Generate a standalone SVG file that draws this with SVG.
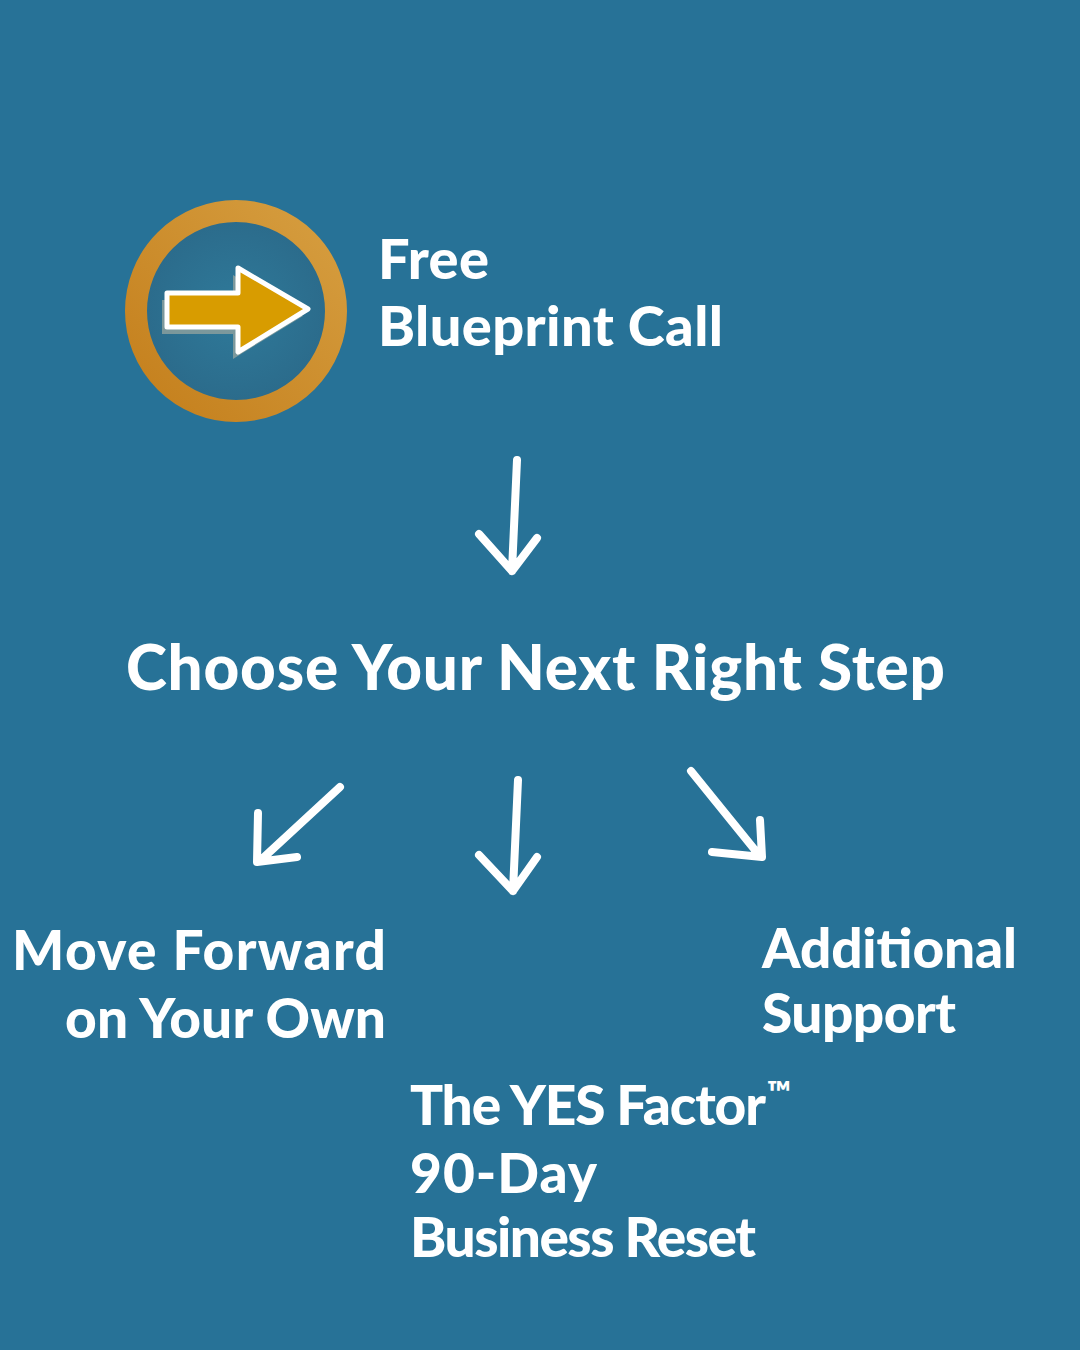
<svg xmlns="http://www.w3.org/2000/svg" width="1080" height="1350" viewBox="0 0 1080 1350">
<defs>
<linearGradient id="ring" x1="0" y1="1" x2="1" y2="0">
<stop offset="0" stop-color="#c47f1c"/>
<stop offset="1" stop-color="#d69e40"/>
</linearGradient>
<radialGradient id="inner" cx="0.5" cy="0.5" r="0.5">
<stop offset="0" stop-color="#2f7a9a"/>
<stop offset="1" stop-color="#2b6a8a"/>
</radialGradient>
<style>
.t{font-family:Lato,"Liberation Sans",sans-serif;font-weight:900;fill:#ffffff;}
.a{fill:none;stroke:#ffffff;stroke-width:8;stroke-linecap:round;stroke-linejoin:round;}
</style>
</defs>
<rect width="1080" height="1350" fill="#277297"/>
<g id="icon">
<circle cx="236" cy="311" r="100" fill="url(#inner)" stroke="url(#ring)" stroke-width="22"/>
<path d="M162 300 L233 300 L233 275 L303 316 L233 359 L233 334 L162 334 Z" fill="#8a9f9e" opacity="0.85"/>
<path d="M167 293 L238 293 L238 268 L308 309 L238 352 L238 327 L167 327 Z" fill="#d89c00" stroke="#ffffff" stroke-width="5" stroke-linejoin="round"/>
</g>
<g id="free-blueprint-call">
<text class="t" x="378" y="279" font-size="56" textLength="111">Free</text>
<text class="t" x="378" y="346" font-size="56" textLength="345">Blueprint Call</text>
</g>
<g id="choose-step">
<text class="t" x="126" y="690" font-size="62" textLength="819">Choose Your Next Right Step</text>
</g>
<g id="move-forward">
<text class="t" x="12" y="970" font-size="55" textLength="374">Move Forward</text>
<text class="t" x="65" y="1038" font-size="55" textLength="321">on Your Own</text>
</g>
<g id="additional-support">
<text class="t" x="762" y="968" font-size="55" textLength="255">Additional</text>
<text class="t" x="762" y="1033" font-size="55" textLength="194">Support</text>
</g>
<g id="yes-factor">
<text class="t" x="410" y="1125" font-size="55" textLength="356">The YES Factor</text>
<text class="t" x="767" y="1104" font-size="32" textLength="28">™</text>
<text class="t" x="410" y="1193" font-size="55" textLength="187">90-Day</text>
<text class="t" x="410" y="1257" font-size="55" textLength="346">Business Reset</text>
</g>
<g id="connectors">
<path class="a" d="M517 460 L512 571 M479 534 L512 571 L537 538"/>
<path class="a" d="M340 787 L262 859 M258 813 L257 862 L297 857"/>
<path class="a" d="M518 780 L513 891 M479 855 L513 891 L537 857"/>
<path class="a" d="M691 771 L759 855 M760 820 L762 857 L712 852"/>
</g>
</svg>
